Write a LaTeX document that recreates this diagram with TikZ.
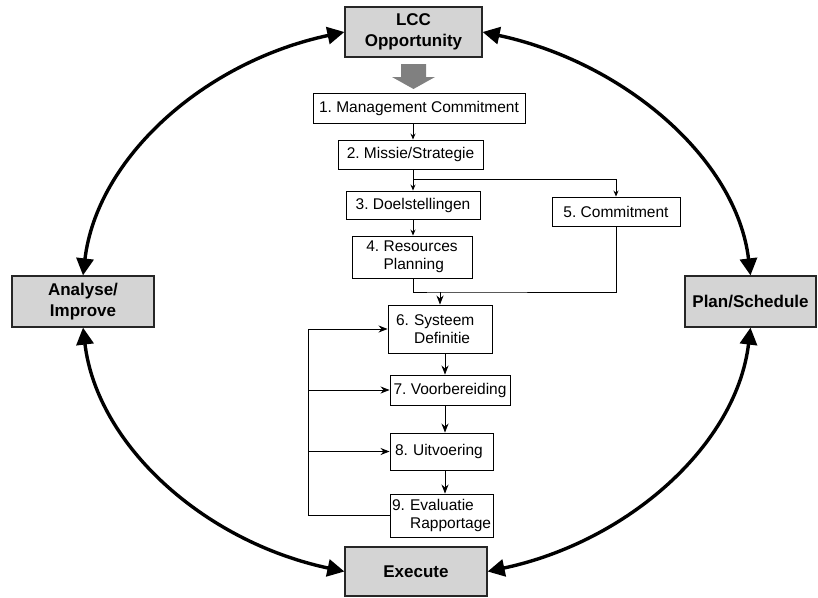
\documentclass[tikz,border=0pt]{standalone}
\usepackage{fontspec}
\setmainfont{Liberation Sans}
\usetikzlibrary{arrows.meta,shadows}
\frenchspacing
\hyphenpenalty=10000
% first line "N. word", second line aligned under the word
\newcommand{\hangtext}[3]{#1\ #2\\\hphantom{#1\ }#3}
\begin{document}
\begin{tikzpicture}[x=1pt, y=-1pt,
  stepbox/.style={draw=black, line width=0.9pt, fill=white, inner sep=0pt,
    font=\fontsize{15.5}{18.5}\selectfont},
  phasebox/.style={draw=black!85, line width=1.2pt, fill=black!17, inner sep=0pt,
    align=center, font=\fontsize{17}{21.5}\selectfont\bfseries,
    drop shadow={shadow xshift=1.2pt, shadow yshift=-1.2pt, fill=black!60, opacity=1}},
  conn/.style={line width=0.9pt, -{Stealth[length=6pt, width=5pt]}},
  connb/.style={line width=0.9pt, -{Stealth[length=9pt, width=7pt]}},
  loopline/.style={line width=3.4pt,
    {Triangle[length=17pt, width=17pt]}-{Triangle[length=17pt, width=17pt]}}
]
\useasboundingbox (0,0) rectangle (818,597);

% the four phases of the cycle
\node[phasebox, minimum width=137pt, minimum height=50pt] (lcc)  at (413.5,32)    {LCC\\Opportunity};
\node[phasebox, minimum width=142pt, minimum height=51pt] (anal) at (83,301.5)    {Analyse/\\Improve};
\node[phasebox, minimum width=131pt, minimum height=51pt] (plan) at (750.5,301.5) {Plan/Schedule};
\node[phasebox, minimum width=142pt, minimum height=49pt] (exec) at (416,571.5)   {Execute};

% gray block arrow into the step list
\fill[black!50] (401,64) -- (426,64) -- (426,77) -- (435,77) -- (413.5,89)
  -- (392,77) -- (401,77) -- cycle;

% the steps
\node[stepbox, minimum width=212pt, minimum height=30pt] (b1) at (419,108)   {1. Management Commitment};
\node[stepbox, minimum width=145pt, minimum height=29pt] (b2) at (410.5,154.5) {2. Missie/Strategie};
\node[stepbox, minimum width=134pt, minimum height=28pt] (b3) at (413,205)   {3. Doelstellingen};
\node[stepbox, minimum width=128pt, minimum height=29pt] (b5) at (616,211.5) {5. Commitment};
\node[stepbox, minimum width=120pt, minimum height=42pt, align=left] (b4) at (412,257)
  {\hangtext{4.}{Resources}{Planning}};
\node[stepbox, minimum height=48pt, inner xsep=8pt, text width=88pt, align=left] (b6) at (440,329)
  {\hangtext{6.}{Systeem}{Definitie}};
\node[stepbox, minimum width=120pt, minimum height=30pt] (b7) at (450,390) {7. Voorbereiding};
\node[stepbox, minimum height=37pt, inner xsep=5pt, text width=93pt, align=left] (b8) at (441.5,451.5)
  {8. Uitvoering};
\node[stepbox, minimum height=43pt, inner xsep=2pt, text width=99pt, align=left] (b9) at (441.5,515.5)
  {\hangtext{9.}{Evaluatie}{Rapportage}};

% guide coordinates for the connector lines
\coordinate (spine)  at (413,0);
\coordinate (spineb) at (445,0);
\coordinate (loopx)  at (308,0);
\coordinate (fork)   at (413,179);
\coordinate (merge)  at (440,292);

\draw[conn] (b1.south -| spine) -- (b2.north -| spine);
\draw[conn] (b2.south -| spine) -- (b3.north -| spine);
\draw[conn] (fork) -| (b5.north);
\draw[conn] (b3.south -| spine) -- (b4.north -| spine);
\draw[line width=0.9pt] (b4.south -| spine) |- (merge) -| (b5.south);
\draw[connb] (merge) -- (b6.north);
\draw[connb] (b6.south -| spineb) -- (b7.north -| spineb);
\draw[connb] (b7.south -| spineb) -- (b8.north -| spineb);
\draw[connb] (b8.south -| spineb) -- (b9.north -| spineb);

% feedback loop on the left
\draw[connb] (b9.west) -| (loopx |- b6.west) -- (b6.west);
\draw[connb] (loopx |- b7.west) -- (b7.west);
\draw[connb] (loopx |- b8.west) -- (b8.west);

% the outer cycle
\draw[loopline] (anal.north) .. controls +(14,-117) and +(-141,30) .. (lcc.west);
\draw[loopline] (lcc.east) .. controls +(141,30) and +(-14,-117) .. (plan.north);
\draw[loopline] (anal.south) .. controls +(14,117) and +(-141,-30) .. (exec.west);
\draw[loopline] (exec.east) .. controls +(141,-30) and +(-14,117) .. (plan.south);
\end{tikzpicture}
\end{document}
